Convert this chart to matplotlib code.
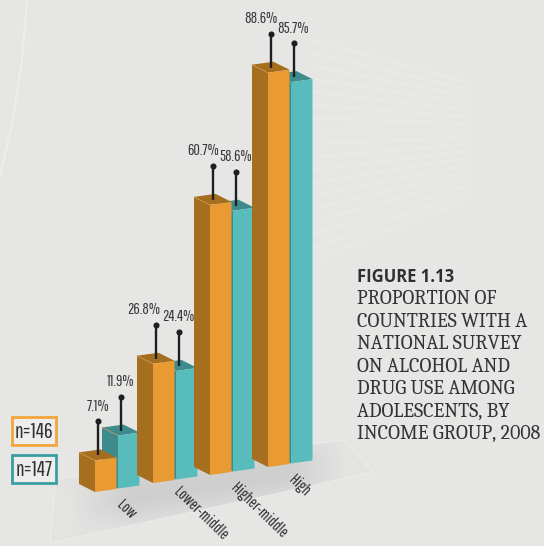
import numpy as np
import matplotlib
matplotlib.use("Agg")
import matplotlib.pyplot as plt
from matplotlib.patches import Polygon, Rectangle
import logging
logging.getLogger("matplotlib.font_manager").setLevel(logging.ERROR)

categories = ["Low", "Lower-middle", "Higher-middle", "High"]
orange_values = [7.1, 26.8, 60.7, 88.6]
teal_values = [11.9, 24.4, 58.6, 85.7]
legend_labels = ["n=146", "n=147"]
title_head = "FIGURE 1.13"
title_lines = ["PROPORTION OF", "COUNTRIES WITH A", "NATIONAL SURVEY", "ON ALCOHOL AND",
               "DRUG USE AMONG", "ADOLESCENTS, BY", "INCOME GROUP, 2008"]

PX = 4.45
W, H = 544, 546
fig = plt.figure(figsize=(W / 100, H / 100), dpi=100)
ax = fig.add_axes([0, 0, 1, 1])
ax.set_xlim(0, W); ax.set_ylim(H, 0); ax.axis("off")
BG = "#e6e6e4"
fig.patch.set_facecolor(BG)

# background texture: thin streak upper-left, faint rays on the right
ax.plot([27, 22, 12, 0], [0, 60, 125, 175], color="#f1f1ee", lw=1.6, alpha=.7, zorder=0)
for yl in range(40, 270, 13):
    ax.plot([312, 465], [yl, yl + (130 - yl) * 153 / 330], color="#f0f0ee", lw=2.4, alpha=.28, zorder=0)

# floor with soft shadow band under the bars
floor_pts = [(50, 543), (373, 472), (343, 440), (56, 479)]
floor = Polygon(floor_pts, closed=True, fc="#e3e3e2", ec="#efefed", lw=.6, zorder=1)
ax.add_patch(floor)
xx, yy = np.meshgrid(np.arange(0, W), np.arange(420, H))
a0 = np.array([70, 505.0]); a1 = np.array([345, 462.0])
d = (a1 - a0) / np.hypot(*(a1 - a0))
n = np.array([-d[1], d[0]])
u = (xx - a0[0]) * d[0] + (yy - a0[1]) * d[1]
v = (xx - a0[0]) * n[0] + (yy - a0[1]) * n[1]
L = np.hypot(*(a1 - a0))
fade = np.clip(u / 60, 0, 1) * np.clip((L - u) / 60, 0, 1)
alpha = .9 * np.exp(-(v / 26.0) ** 2) * fade
rgba = np.zeros(xx.shape + (4,))
rgba[..., :3] = 0.80
rgba[..., 3] = alpha
im = ax.imshow(rgba, extent=(0, W, H, 420), aspect="auto", zorder=1.5, interpolation="bilinear")
im.set_clip_path(floor)
ax.set_xlim(0, W); ax.set_ylim(H, 0)

# geometry of the oblique bars
front_w, rise = 21.5, -3.0
dep_x, dep_y = -16, -8
base_x = [95, 153, 210, 268]
base_y = [492, 483, 475, 467]
teal_dx, teal_dy = 23, -3.5
stem = 34

def bar(x0, y0, v, front, side, top, z):
    h = v * PX
    bl = (x0, y0); br = (x0 + front_w, y0 + rise)
    tl = (x0, y0 - h); tr = (x0 + front_w, y0 + rise - h)
    bl2 = (x0 + dep_x, y0 + dep_y); tl2 = (x0 + dep_x, y0 + dep_y - h)
    tr2 = (tr[0] + dep_x, tr[1] + dep_y)
    ax.add_patch(Polygon([bl2, tl2, tl, bl], closed=True, fc=side, ec="none", zorder=z))
    ax.add_patch(Polygon([tl2, tr2, tr, tl], closed=True, fc=top, ec="none", zorder=z))
    ax.add_patch(Polygon([bl, tl, tr, br], closed=True, fc=front, ec="none", zorder=z))
    ax.plot([tl2[0], tl[0]], [tl2[1], tl[1]], color="#c99a55", lw=.5, zorder=z + .1)
    return tl

narrow = ["Pathway Gothic One", "Archivo Narrow", "Liberation Sans Narrow", "Roboto", "DejaVu Sans"]
label_dx_o = [0, -12, -10, -10]
label_dx_t = [0, -1, 0, -1]
for i in range(4):
    z = 10 + 2 * i
    tlt = bar(base_x[i] + teal_dx, base_y[i] + teal_dy, teal_values[i], "#58bcbc", "#3d8b8d", "#3d8b8d", z)
    tlo = bar(base_x[i], base_y[i], orange_values[i], "#e99a33", "#a66f20", "#a56e1f", z + 1)
    for tl, v_, dx in ((tlo, orange_values[i], label_dx_o[i]), (tlt, teal_values[i], label_dx_t[i])):
        x, y0 = tl[0] + 3, tl[1] - 5
        ax.plot([x, x], [y0, y0 - stem], color="#1f1f21", lw=1.7, zorder=30, solid_capstyle="butt")
        ax.plot([x], [y0 - stem], "o", ms=4.4, color="#1f1f21", mec="none", zorder=31)
        ax.text(x + dx, y0 - stem - 15, f"{v_}%", ha="center", va="center", fontsize=11.5,
                color="#3a3a3c", family=narrow, zorder=32)

# category labels
label_x = [119, 176, 233, 291]
label_y = [503, 490, 486, 478]
for s, x, y in zip(categories, label_x, label_y):
    ax.text(x, y, s, rotation=-44, rotation_mode="anchor", ha="left", va="center",
            fontsize=11.6, color="#2f2f30", family=narrow, zorder=32)

# legend boxes
for lab, y, c in zip(legend_labels, (417, 455), ("#f3a53c", "#3a9ea0")):
    ax.add_patch(Rectangle((11.5, y), 44.5, 27.5, fc="#ededeb", ec=c, lw=2.0, zorder=20))
    ax.text(34, y + 14.5, lab, ha="center", va="center", fontsize=15.5, color="#333335",
            family=narrow, zorder=21)

ax.text(357, 277, title_head, fontsize=12, fontweight="bold", color="#2f2f31",
        family=["Open Sans", "DejaVu Sans"], va="center")
for i, s in enumerate(title_lines):
    ax.text(357, 299 + i * 22.4, s, fontsize=14.4, color="#343436",
            family=["Caladea", "Liberation Serif", "DejaVu Serif"], va="center")

fig.savefig("out.png", dpi=100, facecolor=BG)
